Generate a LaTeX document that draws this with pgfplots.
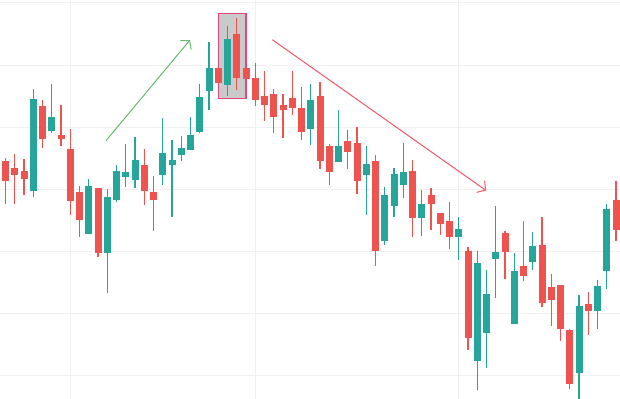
\documentclass[border=0pt]{standalone}
\usepackage{pgfplots}
\usepackage{pgfplotstable}
\pgfplotsset{compat=1.18}
\usetikzlibrary{arrows.meta}
\definecolor{cgreen}{RGB}{38,166,154}
\definecolor{cred}{RGB}{239,83,80}
\definecolor{agreen}{RGB}{102,187,106}
\definecolor{ared}{RGB}{242,84,104}
\definecolor{boxpink}{RGB}{226,70,122}
\definecolor{boxfill}{RGB}{202,202,202}
\definecolor{gridc}{RGB}{240,240,240}

% columns: index, body top, body bottom, wick top, wick bottom (pixel rows, y grows downwards)
\pgfplotstableread{
i top bot hi lo
4 99 190.7 89 196.7
6 117 130.7 84 132.7
10 186 233.7 179 233.7
12 197 252.7 189 292.7
13 171 199.7 165 201.7
14 172 176.7 144 186.7
15 160 179.7 137 187.7
18 153 174.7 118 184.7
19 160 164.7 140 216.7
20 148 154.7 136 160.7
21 135 149.7 117 149.7
22 97 131.7 84 132.7
23 68 90.7 42 109.7
25 39 84.7 26 95.7
34 100 128.7 84 144.7
37 146 161.7 110 161.7
40 164 174.7 146 214.7
42 195 240.7 187 244.7
43 174 205.7 168 216.7
44 172 184.7 142.7 197.7
46 204 217.7 189.7 235.7
50 229 236.7 217 259.7
52 263 360.7 250.7 389.7
53 294 332.7 269.7 367.7
54 251.7 258.7 206 297.7
56 271 323.7 252.7 323.7
58 245.7 261.7 231.7 269.7
63 305.7 372.7 294.7 398.7
65 285.7 310.7 279.7 328.7
66 208.7 270.7 203.7 288.7
}\greentab

\pgfplotstableread{
i top bot hi lo
1 161 180.7 158 204
2 168 174.7 154 204
3 171 178.7 159 195
5 106 138.7 100 147.7
7 135 138.7 105 145.7
8 149 200.7 129 214.7
9 192 219.7 186 236.7
11 188 252.7 188 256.7
16 165 190.7 149 204.7
17 192 199.7 176 230.7
24 68 82.7 68 82.7
26 34 77.7 18 89.7
27 68 78.7 68 78.7
28 78 99.7 63 105.7
29 96 104.7 71 120.7
30 94 116.7 89 132.7
31 105 109.7 94 137.7
32 98 107.7 71 114.7
33 108 131.7 87 139.7
35 96 160.7 82 168.7
36 146 171.7 144 184.7
38 141 151.7 130 168.7
39 143 180.7 127 193.7
41 160.7 250.7 154.7 265.7
45 171 217.7 160 236.7
47 195 203.7 188 229.7
48 213 223.7 213 234.7
49 221 236.7 202 248.7
51 250.7 337.7 246.7 349.7
55 232.7 251.7 230.7 278.7
57 266 275.7 220.7 280.7
59 244.7 302.7 216.7 306.7
60 286.7 299.7 273.7 325.7
61 284.7 328.7 284.7 340.7
62 329.7 383.7 328.7 388.7
64 303.7 310.7 291.7 334.7
67 199.7 229.7 180.7 240.7
}\redtab

\pgfplotsset{
  wick/.style={draw=none, no markers,
    error bars/.cd, y dir=plus, y explicit, error mark=none,
    error bar style={draw=#1, line width=1.2bp}},
  body/.style={draw=none, no markers,
    error bars/.cd, y dir=plus, y explicit, error mark=none,
    error bar style={draw=#1, line width=7bp, line cap=butt}},
}

\begin{document}
\begin{tikzpicture}
\begin{axis}[
  width=620bp, height=399bp, scale only axis,
  xmin=0.405, xmax=67.43, ymin=0, ymax=399, y dir=reverse,
  axis line style={draw=none},
  xtick={8,28,50}, ytick={3,65,127,189,251,313,375},
  xticklabels={}, yticklabels={},
  major tick length=0pt,
  grid=major, grid style={color=gridc, line width=1bp},
  clip=true,
]
\coordinate (bl) at (rel axis cs:0,0);
\coordinate (tr) at (rel axis cs:1,1);
% highlight box
\addplot[fill=boxfill, draw=boxpink, line width=1.2bp]
  coordinates {(24,13.3) (27,13.3) (27,98.3) (24,98.3)} -- cycle;
% wicks
\addplot[wick=cgreen] table[x=i, y=hi, y error plus expr=\thisrow{lo}-\thisrow{hi}] {\greentab};
\addplot[wick=cred] table[x=i, y=hi, y error plus expr=\thisrow{lo}-\thisrow{hi}] {\redtab};
% bodies
\addplot[body=cgreen] table[x=i, y=top, y error plus expr=\thisrow{bot}-\thisrow{top}] {\greentab};
\addplot[body=cred] table[x=i, y=top, y error plus expr=\thisrow{bot}-\thisrow{top}] {\redtab};
% trend arrows
\addplot[agreen, line width=1bp, -{Straight Barb[length=6bp, width=14bp]}]
  coordinates {(11.865,140.7) (20.946,40)};
\addplot[ared, line width=1bp, -{Straight Barb[length=6bp, width=14bp]}]
  coordinates {(29.84,39.7) (52.95,190.5)};
\end{axis}
\pgfresetboundingbox
\path (bl) rectangle (tr);
\end{tikzpicture}
\end{document}
